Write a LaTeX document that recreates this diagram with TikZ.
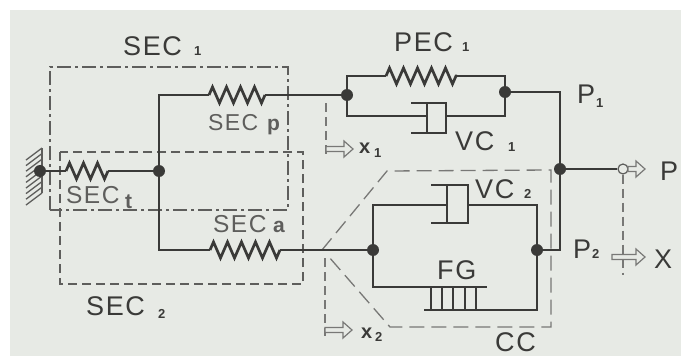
\documentclass[tikz,border=0pt]{standalone}
\usepackage{fontspec}
\setmainfont{Liberation Sans}
\newfontfamily\spaced[LetterSpace=6]{Liberation Sans}
\usetikzlibrary{decorations.pathmorphing}
\definecolor{paper}{HTML}{E7EAE5}
\definecolor{ink}{HTML}{3A3A38}
\definecolor{softink}{HTML}{5E5E5C}
\definecolor{fade}{HTML}{787876}
\tikzset{
  wire/.style={draw=ink,line width=1.5pt},
  spring/.style={draw=ink,line width=2.7pt,decorate,decoration={zigzag,segment length=14pt,amplitude=8pt}},
  dot/.style={circle,fill=ink,draw=none,minimum size=12pt,inner sep=0pt},
  opendot/.style={circle,fill=paper,draw=softink,line width=1.2pt,minimum size=10pt,inner sep=0pt},
  dashone/.style={draw=softink,line width=1.4pt,dash pattern=on 14pt off 4pt on 3pt off 4pt},
  dashtwo/.style={draw=softink,line width=1.4pt,dash pattern=on 9pt off 5pt},
  dashthree/.style={draw=fade,line width=1.3pt,dash pattern=on 15pt off 7pt},
  hollow/.style={draw=fade,line width=1.2pt,fill=paper,line join=miter},
  hatch/.style={draw=softink,line width=1.3pt},
  lab/.style={anchor=base west,inner sep=0pt,text=ink},
  big/.style={lab,font=\fontsize{27}{27}\selectfont\spaced},
  mid/.style={lab,text=softink,font=\fontsize{23}{23}\selectfont\spaced},
  midwide/.style={lab,text=softink,font=\fontsize{24.5}{24.5}\selectfont\spaced},
  sub/.style={lab,font=\fontsize{13}{13}\selectfont\bfseries},
  subbig/.style={lab,text=softink,font=\fontsize{21}{21}\selectfont\bfseries},
  xlab/.style={lab,font=\fontsize{20}{20}\selectfont\bfseries},
}
\newcommand{\hollowarrow}[3]{% x0 x1 y
  \draw[hollow] (#1,#3-2.5) -- (#2-9,#3-2.5) -- (#2-9,#3-8) -- (#2,#3) -- (#2-9,#3+8) -- (#2-9,#3+2.5) -- (#1,#3+2.5) -- cycle;}
\begin{document}
\begin{tikzpicture}[x=1pt,y=-1pt]
\useasboundingbox (0,0) rectangle (681,356);
\fill[white] (0,0) rectangle (681,356);
\fill[paper] (10,10) rectangle (681,356);

% hatch
\draw[hatch] (42,148) -- (42,193);
\foreach \yy in {148,153.6,159.2,164.8,170.4,176,181.6,187.2,193}
  \draw[hatch] (42,\yy) -- (26,\yy+12);

% grouping frames
\draw[dashone] (50,210) -- (50,67) -- (288,67) -- (288,210) -- cycle;
\draw[dashtwo] (60,152) rectangle (303,284);
\draw[dashthree] (322,250) -- (387,171) -- (551,170) -- (551,327) -- (390,327) -- (329,257);

% nodes
\node[dot] (ground) at (40,171) {};
\node[dot] (junction) at (159,171) {};
\node[dot] (na) at (347,95) {};
\node[dot] (nb) at (505,92) {};
\node[dot] (nc) at (373,250) {};
\node[dot] (nd) at (537,250) {};
\node[dot] (ne) at (560,169) {};
\node[opendot] (out) at (623,169) {};

% coordinates
\coordinate (st1) at (66,171); \coordinate (st2) at (108,171);
\coordinate (sp1) at (209,95); \coordinate (sp2) at (265,95);
\coordinate (sa1) at (210,250); \coordinate (sa2) at (280,250);
\coordinate (pe1) at (386,76); \coordinate (pe2) at (457,76);

% SECt
\draw[wire] (ground) -- (st1);
\draw[spring] (st1) -- (st2);
\draw[wire] (st2) -- (junction);
% SECp
\draw[wire] (junction) -- (159,95) -- (sp1);
\draw[spring] (sp1) -- (sp2);
\draw[wire] (sp2) -- (na);
% SECa
\draw[wire] (junction) -- (159,250) -- (sa1);
\draw[spring] (sa1) -- (sa2);
\draw[wire] (sa2) -- (nc);
% PEC1
\draw[wire] (na) -- (347,76) -- (pe1);
\draw[spring] (pe1) -- (pe2);
\draw[wire] (pe2) -- (505,76) -- (nb);
% VC1
\draw[wire] (na) -- (347,116) -- (427,116);
\draw[wire] (427,104) -- (427,132);
\draw[wire] (411,103) -- (446,103) -- (446,133) -- (411,133);
\draw[wire] (446,116) -- (505,116) -- (nb);
% to output
\draw[wire] (nb) -- (560,92) -- (ne);
\draw[wire] (ne) -- (out);
\draw[wire] (ne) -- (560,250) -- (nd);
% VC2
\draw[wire] (nc) -- (373,205) -- (447,205);
\draw[wire] (447,185) -- (447,223);
\draw[wire] (431,185) -- (468,185) -- (468,223) -- (431,223);
\draw[wire] (468,205) -- (537,205) -- (nd);
% FG
\draw[wire] (nc) -- (373,287) -- (487,287);
\draw[wire] (nd) -- (537,310) -- (424,310);
\foreach \xx in {431,442,453,465,476}
  \draw[wire] (\xx,287) -- (\xx,310);

% displacement markers
\draw[dashthree,dash pattern=on 9pt off 5pt] (326,103) -- (326,158);
\hollowarrow{326}{353}{149}
\draw[dashthree,dash pattern=on 9pt off 5pt] (325,258) -- (325,336);
\hollowarrow{325}{352}{330}
\draw[dashthree,dash pattern=on 9pt off 5pt] (out) -- (623,275);
\hollowarrow{612}{645}{257}
\hollowarrow{628}{645}{169}

% labels
\node[big] (tsec1) at (123,55) {SEC};
\node[sub] (tsec1s) at (194,56) {1};
\node[big] (tpec) at (394,52) {PEC};
\node[sub] (tpecs) at (462,52) {1};
\node[mid] (tsecp) at (208,130) {SEC};
\node[subbig] (tsecps) at (267,130) {p};
\node[big] (tvc1) at (455,150) {VC};
\node[sub] (tvc1s) at (508,151) {1};
\node[big] (tp1) at (577,103) {P};
\node[sub] (tp1s) at (596,107) {1};
\node[big] (tp) at (660,180) {P};
\node[big] (tx) at (654,268) {X};
\node[big] (tp2) at (573,258) {P};
\node[sub] (tp2s) at (592,258) {2};
\node[big] (tfg) at (437,279) {FG};
\node[big] (tcc) at (495,351) {CC};
\node[big] (tvc2) at (475,198) {VC};
\node[sub] (tvc2s) at (524,198) {2};
\node[xlab] (tx1) at (359,153) {x};
\node[sub] (tx1s) at (374,157) {1};
\node[xlab] (tx2) at (361,338) {x};
\node[sub] (tx2s) at (375,341) {2};
\node[midwide] (tseca) at (213,232) {SEC};
\node[subbig] (tsecas) at (273,232) {a};
\node[big] (tsec2) at (86,315) {SEC};
\node[sub] (tsec2s) at (158,318) {2};
\node[midwide] (tsect) at (66,203) {SEC};
\node[subbig] (tsects) at (125,208) {t};
\end{tikzpicture}
\end{document}
